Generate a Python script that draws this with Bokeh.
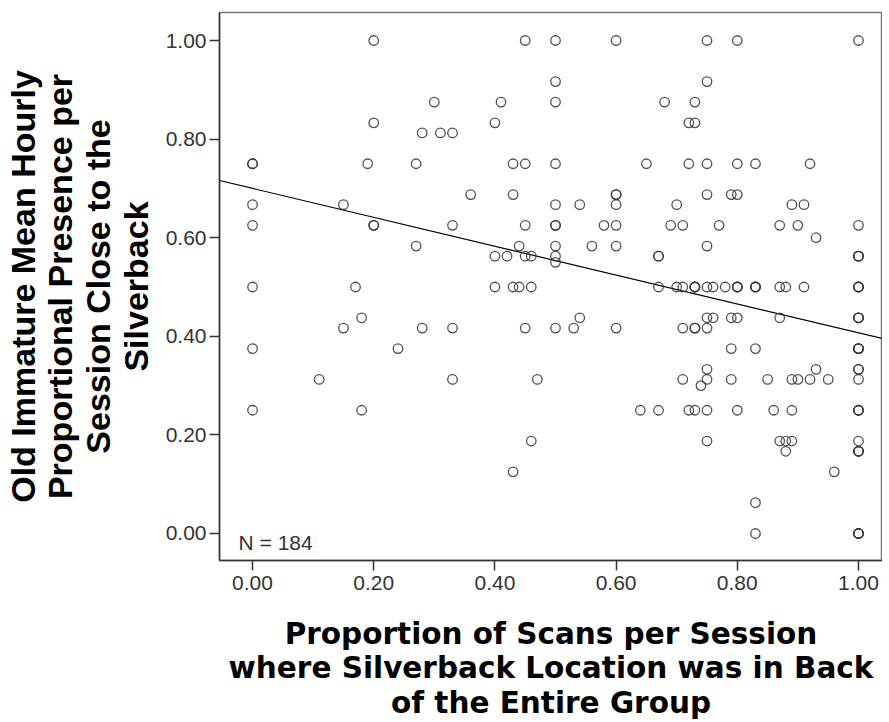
from bokeh.plotting import figure
from bokeh.models import FixedTicker, NumeralTickFormatter, Label, Range1d
from bokeh.embed import file_html
from bokeh.resources import INLINE
import numpy as np

# Proportion of scans per session where silverback was in back of the group
x_prop = [
    0.20, 0.30, 0.20, 0.28, 0.31, 0.00, 0.00, 0.19, 0.27, 0.00,
    0.15, 0.00, 0.20, 0.20, 0.27, 0.00, 0.17, 0.18, 0.15, 0.28,
    0.00, 0.24, 0.11, 0.00, 0.18, 0.45, 0.50, 0.60, 0.50, 0.41,
    0.50, 0.68, 0.40, 0.33, 0.43, 0.45, 0.50, 0.65, 0.36, 0.43,
    0.60, 0.60, 0.50, 0.54, 0.60, 0.33, 0.45, 0.50, 0.50, 0.58,
    0.60, 0.69, 0.44, 0.50, 0.56, 0.60, 0.40, 0.42, 0.45, 0.46,
    0.50, 0.50, 0.67, 0.67, 0.40, 0.43, 0.44, 0.46, 0.67, 0.33,
    0.45, 0.50, 0.53, 0.54, 0.60, 0.33, 0.47, 0.64, 0.67, 0.46,
    0.43, 0.75, 0.80, 1.00, 0.75, 0.73, 0.72, 0.73, 0.72, 0.75,
    0.80, 0.83, 0.92, 0.70, 0.75, 0.79, 0.80, 0.89, 0.91, 0.71,
    0.77, 0.87, 0.90, 1.00, 0.93, 0.75, 1.00, 1.00, 0.70, 0.71,
    0.73, 0.73, 0.75, 0.76, 0.78, 0.80, 0.80, 0.83, 0.83, 0.87,
    0.88, 0.91, 1.00, 1.00, 0.75, 0.76, 0.79, 0.80, 0.87, 1.00,
    1.00, 0.71, 0.73, 0.73, 0.75, 0.79, 0.83, 1.00, 1.00, 0.75,
    0.93, 1.00, 1.00, 1.00, 0.71, 0.75, 0.74, 0.79, 0.85, 0.89,
    0.90, 0.92, 0.95, 0.72, 0.73, 0.75, 0.80, 0.86, 0.89, 1.00,
    1.00, 0.75, 0.87, 0.88, 0.89, 0.88, 1.00, 1.00, 1.00, 0.96,
    0.83, 0.83, 1.00, 1.00, 1.00, 1.00, 1.00, 1.00, 1.00, 1.00,
    0.73, 0.80, 0.83, 1.00,
]

# Old immature mean hourly proportional presence close to the silverback
y_presence = [
    1.000, 0.875, 0.833, 0.8125, 0.8125, 0.750, 0.750, 0.750, 0.750, 0.667,
    0.667, 0.625, 0.625, 0.625, 0.583, 0.500, 0.500, 0.4375, 0.4167, 0.4167,
    0.375, 0.375, 0.3125, 0.250, 0.250, 1.000, 1.000, 1.000, 0.9167, 0.875,
    0.875, 0.875, 0.833, 0.8125, 0.750, 0.750, 0.750, 0.750, 0.6875, 0.6875,
    0.6875, 0.6875, 0.667, 0.667, 0.667, 0.625, 0.625, 0.625, 0.625, 0.625,
    0.625, 0.625, 0.583, 0.583, 0.583, 0.583, 0.5625, 0.5625, 0.5625, 0.5625,
    0.5625, 0.550, 0.5625, 0.5625, 0.500, 0.500, 0.500, 0.500, 0.500, 0.4167,
    0.4167, 0.4167, 0.4167, 0.4375, 0.4167, 0.3125, 0.3125, 0.250, 0.250, 0.1875,
    0.125, 1.000, 1.000, 1.000, 0.9167, 0.875, 0.833, 0.833, 0.750, 0.750,
    0.750, 0.750, 0.750, 0.667, 0.6875, 0.6875, 0.6875, 0.667, 0.667, 0.625,
    0.625, 0.625, 0.625, 0.625, 0.600, 0.583, 0.5625, 0.5625, 0.500, 0.500,
    0.500, 0.500, 0.500, 0.500, 0.500, 0.500, 0.500, 0.500, 0.500, 0.500,
    0.500, 0.500, 0.500, 0.500, 0.4375, 0.4375, 0.4375, 0.4375, 0.4375, 0.4375,
    0.4375, 0.4167, 0.4167, 0.4167, 0.4167, 0.375, 0.375, 0.375, 0.375, 0.333,
    0.333, 0.333, 0.333, 0.3125, 0.3125, 0.3125, 0.300, 0.3125, 0.3125, 0.3125,
    0.3125, 0.3125, 0.3125, 0.250, 0.250, 0.250, 0.250, 0.250, 0.250, 0.250,
    0.250, 0.1875, 0.1875, 0.1875, 0.1875, 0.1667, 0.1875, 0.1667, 0.1667, 0.125,
    0.0625, 0.000, 0.000, 0.000, 0.500, 0.250, 0.000, 0.4375, 0.375, 0.5625,
    0.500, 0.500, 0.500, 0.1667,
]

# Linear fit line
fit_intercept = 0.70
fit_slope = -0.293

x_ticks = [0.0, 0.2, 0.4, 0.6, 0.8, 1.0]
y_ticks = [0.0, 0.2, 0.4, 0.6, 0.8, 1.0]
n_label = "N = 184"

x_title = "Proportion of Scans per Session\nwhere Silverback Location was in Back\nof the Entire Group"
y_title = "Old Immature Mean Hourly\nProportional Presence per\nSession Close to the\nSilverback"

x_lo, x_hi = -0.0545, 1.0396
y_lo, y_hi = -0.0548, 1.0568

p = figure(
    frame_width=663, frame_height=548,
    x_range=Range1d(x_lo, x_hi), y_range=Range1d(y_lo, y_hi),
    output_backend="svg", toolbar_location=None,
    min_border_left=210, min_border_right=0, min_border_top=12, min_border_bottom=0,
)
p.background_fill_color = "white"
p.border_fill_color = "white"
p.outline_line_color = "#777777"
p.outline_line_width = 1.5
p.xgrid.visible = False
p.ygrid.visible = False

for ax, ticks in ((p.xaxis, x_ticks), (p.yaxis, y_ticks)):
    ax.ticker = FixedTicker(ticks=ticks)
    ax.formatter = NumeralTickFormatter(format="0.00")
    ax.major_tick_in = 0
    ax.major_tick_out = 10
    ax.minor_tick_line_color = None
    ax.major_tick_line_color = "#333333"
    ax.major_tick_line_width = 1.5
    ax.axis_line_color = "#333333"
    ax.axis_line_width = 1.5
    ax.major_label_text_font = "Liberation Sans"
    ax.major_label_text_font_size = "21px"
    ax.major_label_text_color = "#333333"

p.xaxis.major_label_standoff = 5
p.yaxis.major_label_standoff = 3

p.xaxis.axis_label = x_title
p.xaxis.axis_label_text_font = "DejaVu Sans"
p.xaxis.axis_label_text_font_style = "bold"
p.xaxis.axis_label_text_font_size = "29.5px"
p.xaxis.axis_label_text_color = "black"
p.xaxis.axis_label_text_line_height = 1.02
p.xaxis.axis_label_standoff = 24

p.yaxis.axis_label = y_title
p.yaxis.axis_label_text_font = "Liberation Sans"
p.yaxis.axis_label_text_font_style = "bold"
p.yaxis.axis_label_text_font_size = "34px"
p.yaxis.axis_label_text_color = "black"
p.yaxis.axis_label_text_line_height = 0.99
p.yaxis.axis_label_standoff = 8

# regression line
fx = np.array([x_lo, x_hi])
fy = fit_intercept + fit_slope * fx
p.line(fx, fy, line_color="black", line_width=1.2)

p.scatter(x_prop, y_presence, marker="circle", size=9.5, fill_color=None,
          line_color="#333333", line_width=1.3, line_alpha=0.85)

p.add_layout(Label(x=-0.023, y=-0.0176, text=n_label, text_font="Liberation Sans",
                   text_font_size="21px", text_color="#333333",
                   text_align="left", text_baseline="alphabetic"))

open("out.html", "w").write(file_html(p, INLINE))
